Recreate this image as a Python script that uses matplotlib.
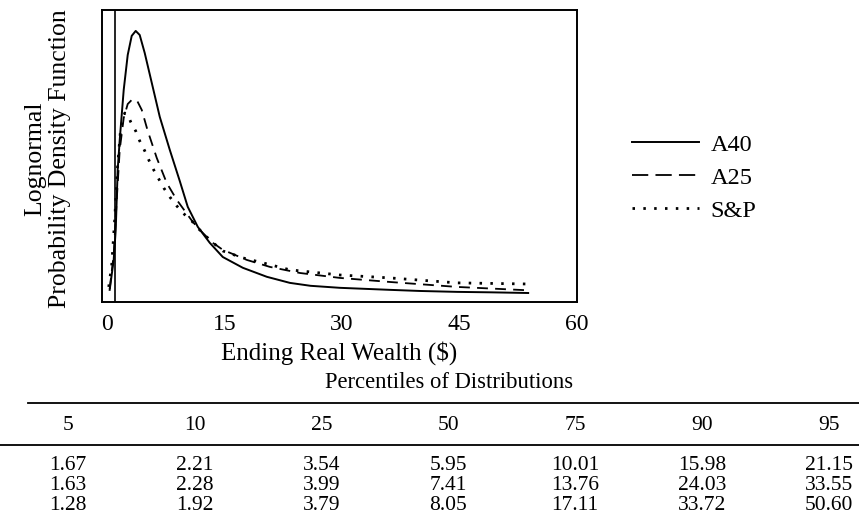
import matplotlib.pyplot as plt
from matplotlib.lines import Line2D

# lognormal densities of ending real wealth
a40_x = [0.38, 0.89, 1.15, 1.40, 1.66, 2.17, 2.68, 3.19, 3.70, 4.21, 4.85,
         5.75, 6.77, 8.05, 9.32, 10.34, 11.62, 13.15, 14.81, 17.37, 20.43,
         23.37, 26.0, 29.76, 36.14, 40.0, 44.70, 49.0, 53.77]
a40_y = [0.0018, 0.0151, 0.0284, 0.0551, 0.0684, 0.0907, 0.1062, 0.1147,
         0.1169, 0.1151, 0.1071, 0.0938, 0.0787, 0.0640, 0.0502, 0.0387,
         0.0298, 0.0227, 0.0164, 0.0116, 0.0076, 0.0049, 0.0036, 0.0027,
         0.0018, 0.0013, 0.0009, 0.0007, 0.0004]

a25_x = [0.38, 0.89, 1.28, 1.66, 2.17, 2.68, 3.19, 3.83, 4.47, 5.24, 6.39,
         7.66, 8.94, 9.96, 10.98, 12.26, 13.54, 14.81, 17.88, 20.82, 24.65,
         29.76, 36.14, 44.70, 53.77]
a25_y = [0.0022, 0.0173, 0.0418, 0.0640, 0.0782, 0.0844, 0.0862, 0.0862,
         0.0818, 0.0724, 0.0604, 0.0493, 0.0418, 0.0369, 0.0320, 0.0271,
         0.0227, 0.0196, 0.0151, 0.0120, 0.0093, 0.0071, 0.0053, 0.0031,
         0.0016]

sp_x = [0.26, 0.64, 1.02, 1.40, 1.79, 2.30, 2.68, 3.07, 3.70, 4.21, 4.85,
        5.36, 6.00, 6.64, 7.28, 8.05, 8.94, 9.71, 10.86, 11.62, 13.15, 14.81,
        17.37, 19.92, 23.37, 29.76, 36.14, 44.70, 53.77]
sp_y = [0.0031, 0.0129, 0.0329, 0.0573, 0.0738, 0.0804, 0.0796, 0.0764,
        0.0724, 0.0680, 0.0636, 0.0596, 0.0551, 0.0511, 0.0471, 0.0431,
        0.0391, 0.0360, 0.0324, 0.0293, 0.0240, 0.0191, 0.0160, 0.0138,
        0.0107, 0.0084, 0.0071, 0.0049, 0.0044]

start_wealth = 1.0
x_ticks = [0, 15, 30, 45, 60]
x_marks = [30, 45]

# percentile table under the chart
percentiles = [5, 10, 25, 50, 75, 90, 95]
a40_pct = ["1.67", "2.21", "3.54", "5.95", "10.01", "15.98", "21.15"]
a25_pct = ["1.63", "2.28", "3.99", "7.41", "13.76", "24.03", "33.55"]
sp_pct = ["1.28", "1.92", "3.79", "8.05", "17.11", "33.72", "50.60"]

W, H = 859, 529
FONT = "Liberation Serif"
plt.rcParams["font.family"] = [FONT, "DejaVu Serif"]

fig = plt.figure(figsize=(W / 100, H / 100), dpi=100)
ax = fig.add_axes([102 / W, 1 - 302 / H, 475 / W, 292 / H])

ax.plot(a40_x, a40_y, color="black", lw=1.4, ls="-")
ax.plot(a25_x, a25_y, color="black", lw=1.3, ls=(0, (6, 4)))
ax.plot(sp_x, sp_y, color="black", lw=2.0, ls=(0, (0.9, 3.0)))
ax.axvline(start_wealth, color="black", lw=1.2)

ax.set_xlim(-0.6, 60)
ax.set_ylim(-0.0036, 0.1262)
ax.set_yticks([])
ax.set_xticks(x_ticks)
ax.set_xticks(x_marks, minor=True)
ax.tick_params(axis="x", which="major", length=0, pad=9, labelsize=17)
ax.tick_params(axis="x", which="minor", length=7, width=1.2, direction="in")
for s in ax.spines.values():
    s.set_linewidth(1.4)

ax.set_xlabel("Ending Real Wealth ($)", fontsize=18)
ax.xaxis.set_label_coords(0.5, -0.135)
ax.set_ylabel("Lognormal\nProbability Density Function", fontsize=18.5,
              linespacing=1.15)
ax.yaxis.set_label_coords(-0.066, 0.49)

handles = [
    Line2D([], [], color="black", lw=1.4, ls="-"),
    Line2D([], [], color="black", lw=1.3, ls=(0, (9, 4))),
    Line2D([], [], color="black", lw=2.0, ls=(0, (0.9, 3.0))),
]
fig.legend(handles, ["A40", "A25", "S&P"], loc="upper left",
           bbox_to_anchor=(622 / W, 1 - 124 / H), frameon=False,
           fontsize=17.5, handlelength=2.75, handletextpad=0.5,
           labelspacing=0.45, borderaxespad=0)

# table
fig.text(449 / W, 1 - 382 / H, "Percentiles of Distributions",
         ha="center", va="center", fontsize=16.3)
fig.add_artist(Line2D([28 / W, 1], [1 - 403 / H] * 2, color="black", lw=1.3))
fig.add_artist(Line2D([0, 1], [1 - 445 / H] * 2, color="black", lw=1.3))

col_x = [68 + i * 126.8 for i in range(len(percentiles))]
for cx, p in zip(col_x, percentiles):
    fig.text(cx / W, 1 - 425 / H, str(p), ha="center", va="center",
             fontsize=15.5)
for ry, row in zip([466, 486, 505], [a40_pct, a25_pct, sp_pct]):
    for cx, v in zip(col_x, row):
        fig.text(cx / W, 1 - ry / H, v, ha="center", va="center",
                 fontsize=15.5)

fig.savefig("out.png", dpi=100)
